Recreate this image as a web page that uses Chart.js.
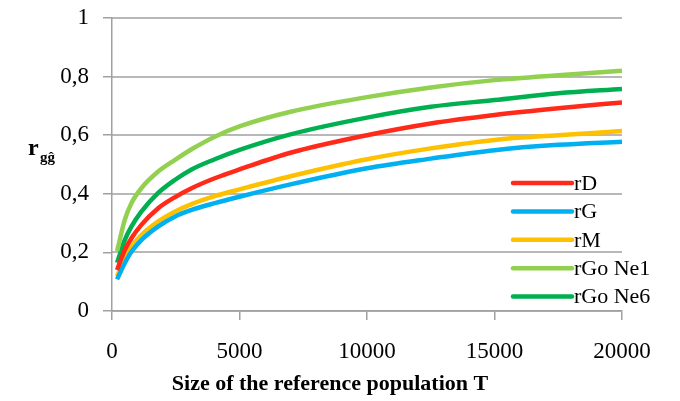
<!DOCTYPE html>
<html>
<head>
<meta charset="utf-8">
<script src="https://cdn.jsdelivr.net/npm/chart.js@4"></script>
<style>
  html, body { margin: 0; padding: 0; background: #fff; }
  #wrap { width: 680px; height: 401px; }
</style>
</head>
<body>
<div id="wrap"><canvas id="c" width="680" height="401"></canvas></div>
<script>
const xValues = [200, 500, 760, 1150, 1800, 2460, 3120, 4030, 5000, 7000, 10000, 12500, 15000, 17500, 20000];
const rD     = [0.140, 0.208, 0.248, 0.294, 0.350, 0.388, 0.419, 0.453, 0.483, 0.540, 0.600, 0.640, 0.669, 0.692, 0.712];
const rG     = [0.108, 0.163, 0.202, 0.242, 0.288, 0.322, 0.345, 0.368, 0.390, 0.432, 0.487, 0.520, 0.549, 0.567, 0.578];
const rM     = [0.118, 0.180, 0.219, 0.259, 0.305, 0.339, 0.365, 0.392, 0.415, 0.460, 0.518, 0.555, 0.584, 0.600, 0.614];
const rGoNe1 = [0.205, 0.311, 0.368, 0.419, 0.475, 0.515, 0.552, 0.595, 0.630, 0.680, 0.730, 0.763, 0.788, 0.805, 0.820];
const rGoNe6 = [0.165, 0.242, 0.288, 0.339, 0.402, 0.447, 0.483, 0.518, 0.550, 0.603, 0.660, 0.697, 0.720, 0.743, 0.758];
const seriesLabels = ['rD', 'rG', 'rM', 'rGo Ne1', 'rGo Ne6'];
const seriesColors = ['#FF2A1A', '#00B0F0', '#FFC000', '#92D050', '#00B050'];
const seriesValues = [rD, rG, rM, rGoNe1, rGoNe6];
const xTicks = [0, 5000, 10000, 15000, 20000];
const yTicks = [0, 0.2, 0.4, 0.6, 0.8, 1];
const xTitle = 'Size of the reference population T';

const SERIF = '"Liberation Serif", "Times New Roman", serif';
const GRID = '#A0A0A0';

const datasets = seriesValues.map((vals, i) => ({
  label: seriesLabels[i],
  data: xValues.map((x, j) => ({ x: x, y: vals[j] })),
  borderColor: seriesColors[i],
  backgroundColor: seriesColors[i],
  borderWidth: 4.5,
  pointRadius: 0,
  cubicInterpolationMode: 'monotone',
  fill: false
}));

const gridPlugin = {
  id: 'gridPlugin',
  beforeDatasetsDraw(chart) {
    const ctx = chart.ctx, ys = chart.scales.y, area = chart.chartArea;
    ctx.save();
    ctx.strokeStyle = GRID;
    ctx.lineWidth = 1.5;
    yTicks.forEach(v => {
      const y = Math.round(ys.getPixelForValue(v));
      ctx.beginPath();
      ctx.moveTo(area.left, y);
      ctx.lineTo(area.right, y);
      ctx.stroke();
    });
    ctx.restore();
  }
};

const decor = {
  id: 'decor',
  afterDraw(chart) {
    const ctx = chart.ctx;
    ctx.save();
    // legend
    const lx0 = 513, lx1 = 572, ly0 = 183, dy = 28.4;
    chart.data.datasets.forEach((ds, i) => {
      const y = ly0 + i * dy;
      ctx.strokeStyle = ds.borderColor;
      ctx.lineWidth = 4.5;
      ctx.lineCap = 'round';
      ctx.beginPath();
      ctx.moveTo(lx0, y);
      ctx.lineTo(lx1, y);
      ctx.stroke();
      ctx.fillStyle = '#000';
      ctx.font = '22px ' + SERIF;
      ctx.textBaseline = 'middle';
      ctx.textAlign = 'left';
      ctx.fillText(ds.label, lx1 + 2, y + 1);
    });
    // x title
    ctx.font = 'bold 22px ' + SERIF;
    ctx.textAlign = 'center';
    ctx.textBaseline = 'middle';
    ctx.fillStyle = '#000';
    ctx.fillText(xTitle, 330, 384);
    // y title r_gĝ
    ctx.textAlign = 'left';
    ctx.textBaseline = 'alphabetic';
    ctx.font = 'bold 24px ' + SERIF;
    ctx.fillText('r', 28, 155);
    ctx.font = 'bold 15px ' + SERIF;
    ctx.fillText('g\u011D', 40, 162);
    ctx.restore();
  }
};

new Chart(document.getElementById('c'), {
  type: 'line',
  data: { datasets: datasets },
  options: {
    responsive: false,
    animation: false,
    layout: { padding: { left: 0, right: 58, top: 18, bottom: 0 } },
    plugins: { legend: { display: false }, tooltip: { enabled: false } },
    scales: {
      x: {
        type: 'linear',
        min: 0, max: 20000,
        afterBuildTicks(scale) { scale.ticks = xTicks.map(v => ({ value: v })); },
        afterFit(scale) { scale.height = 90; scale.paddingLeft = 0; scale.paddingRight = 0; },
        grid: { display: true, drawOnChartArea: false, drawTicks: true, tickLength: 9, color: GRID, lineWidth: 1.5 },
        border: { display: true, color: GRID, width: 1.5 },
        ticks: { color: '#000', font: { family: SERIF, size: 23 }, padding: 18, maxRotation: 0, callback: v => String(v) }
      },
      y: {
        type: 'linear',
        min: 0, max: 1,
        afterBuildTicks(scale) { scale.ticks = yTicks.map(v => ({ value: v })); },
        afterFit(scale) { scale.width = 112; scale.paddingTop = 0; scale.paddingBottom = 0; },
        grid: { display: true, drawOnChartArea: false, drawTicks: true, tickLength: 9, color: GRID, lineWidth: 1.5 },
        border: { display: true, color: GRID, width: 1.5 },
        ticks: { color: '#000', font: { family: SERIF, size: 23 }, padding: 14,
                 callback: v => (Math.round(v * 10) / 10).toString().replace('.', ',') }
      }
    }
  },
  plugins: [gridPlugin, decor]
});
</script>
</body>
</html>
